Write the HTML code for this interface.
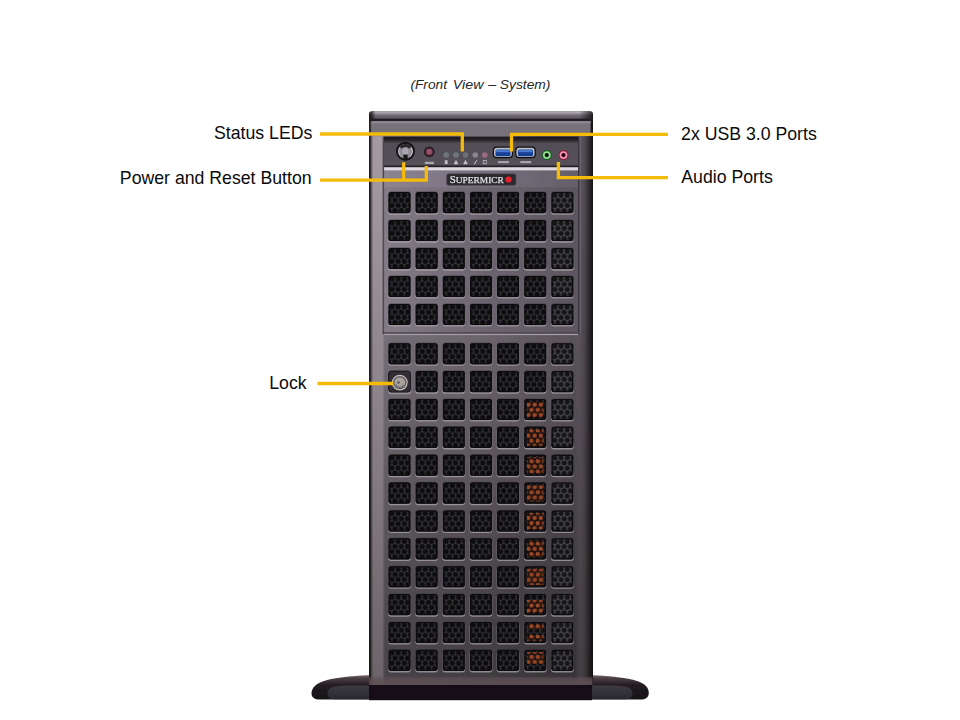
<!DOCTYPE html>
<html><head><meta charset="utf-8"><style>
html,body{margin:0;padding:0;background:#fff;width:960px;height:720px;overflow:hidden}
svg{position:absolute;left:0;top:0}
</style></head><body>
<svg width="960" height="720" viewBox="0 0 960 720">
<defs>
<pattern id="hc" x="0" y="0" width="0.28670" height="0.49048" patternUnits="objectBoundingBox">
<rect width="6.25" height="10.3" fill="#333238"/>
<circle cx="3.3" cy="3.1" r="2.55" fill="#0e0d10"/>
<circle cx="0.175" cy="8.250" r="2.55" fill="#0e0d10"/>
<circle cx="6.425" cy="8.250" r="2.55" fill="#0e0d10"/>
<circle cx="3.3" cy="-7.200" r="2.55" fill="#0e0d10"/>
<circle cx="0.175" cy="-2.050" r="2.55" fill="#0e0d10"/>
<circle cx="6.425" cy="-2.050" r="2.55" fill="#0e0d10"/>
</pattern>
<pattern id="hcr" x="0" y="0" width="0.28670" height="0.49048" patternUnits="objectBoundingBox">
<rect width="6.25" height="10.3" fill="#45444b"/>
<circle cx="3.3" cy="3.1" r="2.5" fill="#141316"/>
<circle cx="0.175" cy="8.250" r="2.5" fill="#141316"/>
<circle cx="6.425" cy="8.250" r="2.5" fill="#141316"/>
<circle cx="3.3" cy="-7.200" r="2.5" fill="#141316"/>
<circle cx="0.175" cy="-2.050" r="2.5" fill="#141316"/>
<circle cx="6.425" cy="-2.050" r="2.5" fill="#141316"/>
</pattern>
<pattern id="hco" x="0.3" y="0.4" width="6.25" height="10.3" patternUnits="userSpaceOnUse">
<rect width="6.25" height="10.3" fill="#24100c"/>
<circle cx="3.125" cy="2.575" r="2.2" fill="#cc5a28"/>
<circle cx="0" cy="7.725" r="2.2" fill="#cc5a28"/>
<circle cx="6.25" cy="7.725" r="2.2" fill="#cc5a28"/>
</pattern>
<linearGradient id="body" gradientUnits="userSpaceOnUse" x1="369" x2="593" y1="0" y2="0">
<stop offset="0" stop-color="#1e181c"/>
<stop offset="0.007" stop-color="#3a3238"/>
<stop offset="0.013" stop-color="#80767e"/>
<stop offset="0.02" stop-color="#a69ca4"/>
<stop offset="0.06" stop-color="#a89ea6"/>
<stop offset="0.07" stop-color="#8c848e"/>
<stop offset="0.5" stop-color="#827a82"/>
<stop offset="0.925" stop-color="#6c646c"/>
<stop offset="0.943" stop-color="#625b63"/>
<stop offset="0.965" stop-color="#4e484e"/>
<stop offset="0.983" stop-color="#302c30"/>
<stop offset="1" stop-color="#161416"/>
</linearGradient>
<linearGradient id="pgrad" gradientUnits="userSpaceOnUse" x1="383" x2="578" y1="0" y2="0">
<stop offset="0" stop-color="#847c86"/>
<stop offset="0.5" stop-color="#6c6570"/>
<stop offset="1" stop-color="#5c5660"/>
</linearGradient>
<linearGradient id="shade" gradientUnits="userSpaceOnUse" x1="0" x2="0" y1="111" y2="685">
<stop offset="0" stop-color="#000" stop-opacity="0"/>
<stop offset="0.155" stop-color="#000" stop-opacity="0.06"/>
<stop offset="0.52" stop-color="#000" stop-opacity="0.23"/>
<stop offset="0.85" stop-color="#000" stop-opacity="0.43"/>
<stop offset="1" stop-color="#000" stop-opacity="0.5"/>
</linearGradient>
<linearGradient id="mgrad" gradientUnits="userSpaceOnUse" x1="368.5" x2="593" y1="0" y2="0">
<stop offset="0" stop-color="#fff" stop-opacity="0.7"/>
<stop offset="0.06" stop-color="#fff" stop-opacity="0.72"/>
<stop offset="0.075" stop-color="#fff" stop-opacity="1"/>
<stop offset="0.92" stop-color="#fff" stop-opacity="1"/>
<stop offset="0.95" stop-color="#fff" stop-opacity="0.5"/>
<stop offset="1" stop-color="#fff" stop-opacity="0.5"/>
</linearGradient>
<mask id="smask" maskUnits="userSpaceOnUse" x="360" y="100" width="240" height="600"><rect x="360" y="100" width="240" height="600" fill="url(#mgrad)"/></mask>
<linearGradient id="panel" x1="0" x2="0" y1="0" y2="1">
<stop offset="0" stop-color="#19171b"/>
<stop offset="0.12" stop-color="#2a272c"/>
<stop offset="0.22" stop-color="#524e56"/>
<stop offset="1" stop-color="#55515a"/>
</linearGradient>
<linearGradient id="basegrad" gradientUnits="userSpaceOnUse" x1="0" x2="0" y1="675" y2="700">
<stop offset="0" stop-color="#7a666e"/>
<stop offset="0.14" stop-color="#4a3e44"/>
<stop offset="0.4" stop-color="#221d21"/>
<stop offset="1" stop-color="#161316"/>
</linearGradient>
<linearGradient id="baseinner" gradientUnits="userSpaceOnUse" x1="0" x2="0" y1="685" y2="700">
<stop offset="0" stop-color="#423e46"/>
<stop offset="0.3" stop-color="#36343b"/>
<stop offset="1" stop-color="#2a282e"/>
</linearGradient>
<linearGradient id="botband" gradientUnits="userSpaceOnUse" x1="0" x2="0" y1="676" y2="685">
<stop offset="0" stop-color="#5a5258" stop-opacity="0"/>
<stop offset="0.3" stop-color="#5e5054" stop-opacity="0.75"/>
<stop offset="1" stop-color="#5e5054" stop-opacity="1"/>
</linearGradient>
<linearGradient id="capgrad" gradientUnits="userSpaceOnUse" x1="0" x2="0" y1="111.3" y2="121">
<stop offset="0" stop-color="#7a727c"/>
<stop offset="0.1" stop-color="#b0a8b2"/>
<stop offset="0.3" stop-color="#8a828c"/>
<stop offset="0.45" stop-color="#6a646c"/>
<stop offset="1" stop-color="#5a545c"/>
</linearGradient>
<linearGradient id="capedge" gradientUnits="userSpaceOnUse" x1="369" x2="593" y1="0" y2="0">
<stop offset="0" stop-color="#000" stop-opacity="0.75"/>
<stop offset="0.012" stop-color="#000" stop-opacity="0.6"/>
<stop offset="0.03" stop-color="#000" stop-opacity="0"/>
<stop offset="0.94" stop-color="#000" stop-opacity="0"/>
<stop offset="0.985" stop-color="#000" stop-opacity="0.55"/>
<stop offset="1" stop-color="#000" stop-opacity="0.75"/>
</linearGradient>
<filter id="soft" x="300" y="100" width="360" height="610" filterUnits="userSpaceOnUse"><feGaussianBlur stdDeviation="0.35"/></filter>
<linearGradient id="lgrad" gradientUnits="userSpaceOnUse" x1="383" x2="578" y1="0" y2="0">
<stop offset="0" stop-color="#8c8490"/>
<stop offset="0.5" stop-color="#787080"/>
<stop offset="1" stop-color="#645e68"/>
</linearGradient>
</defs>
<g filter="url(#soft)">
<!-- base -->
<path d="M318,699.6 C313,699 311.4,696.5 311.5,692.8 C311.8,688 316,683.5 324,681 C334,678 350,675.8 368,675.3 L593,675.3 C611,675.8 627,678 637,681 C645,683.5 648.8,688 648.8,692.8 C648.8,696.5 647,699 642,699.6 Z" fill="url(#basegrad)"/>
<path d="M334,699.3 C328,699.3 326.5,695 328,691 C329.5,687.5 334,685.6 346,685.4 L614,685.4 C626,685.6 630.5,687.5 632,691 C633.5,695 632,699.3 626,699.3 Z" fill="url(#baseinner)"/>
<rect x="369" y="684.6" width="223" height="15.6" fill="#131114"/>
<!-- body -->
<rect x="369" y="118" width="224" height="567" fill="url(#body)"/>
<rect x="369" y="118" width="224" height="567" fill="url(#shade)" mask="url(#smask)"/>
<rect x="369" y="676" width="223.5" height="8.8" fill="url(#botband)"/>
<!-- top cap -->
<rect x="369" y="111.3" width="224" height="10.5" rx="3" fill="url(#capgrad)"/>
<rect x="369" y="111.3" width="224" height="10.5" rx="3" fill="url(#capedge)"/>
<rect x="369" y="118.6" width="224" height="2.6" fill="#221e24"/>
<rect x="371.5" y="121.2" width="219" height="15" fill="#77717a"/>
<rect x="371.5" y="121.2" width="219" height="2.2" fill="#8e8892"/>
<!-- front panel -->
<rect x="384" y="136.6" width="194.5" height="30.7" fill="url(#panel)"/>
<rect x="384" y="165.5" width="194.5" height="1.8" fill="#222024"/>
<rect x="384" y="167.3" width="194.5" height="3.3" fill="#dedae2"/>
<rect x="384" y="170.6" width="194.5" height="16.8" fill="url(#lgrad)"/>
<!-- power button -->
<circle cx="405.5" cy="151.3" r="9.5" fill="#141215"/>
<circle cx="405.5" cy="151.3" r="7.4" fill="#8e8a94"/>
<path d="M401.2,145.5 A7.2,7.2 0 0 0 401.2,157.1 A9,9 0 0 1 401.2,145.5Z" fill="#d8d4dc"/>
<path d="M409.8,145.5 A7.2,7.2 0 0 1 409.8,157.1 A9,9 0 0 0 409.8,145.5Z" fill="#d8d4dc"/>
<ellipse cx="405.5" cy="151.5" rx="3.2" ry="3.6" fill="#aaa6b0"/>
<path d="M399.5,147 A7.4,7.4 0 0 1 411.5,147 L409,148.5 A5,5 0 0 0 402,148.5Z" fill="#2a282c"/>
<rect x="403.4" y="154.6" width="4.2" height="5.6" fill="#141215"/>
<!-- reset -->
<circle cx="429.3" cy="151.7" r="5.3" fill="#2c1a20"/>
<circle cx="429.3" cy="151.7" r="3.3" fill="#8a4a60"/>
<circle cx="429.3" cy="151.7" r="1.8" fill="#9a5670"/>
<rect x="424.8" y="161.8" width="9.2" height="2.2" fill="#b8b6c0" opacity="0.85"/>
<!-- leds -->
<g>
<circle cx="446.2" cy="155" r="2.8" fill="#6e757c"/>
<circle cx="456" cy="155" r="2.8" fill="#6e757c"/>
<circle cx="465.5" cy="155" r="2.8" fill="#6a7076"/>
<circle cx="475.3" cy="155" r="2.8" fill="#8a868e"/>
<circle cx="484.8" cy="155" r="2.8" fill="#9e6a80"/>
</g>
<g fill="#c4c2ca">
<rect x="444.8" y="160.3" width="2.8" height="3.8"/>
<path d="M453.7,164.2 L456,159.8 L458.3,164.2 Z"/>
<path d="M463.2,164.2 L465.5,159.8 L467.8,164.2 Z"/>
<path d="M473.6,164.2 L476.6,159.9 L477.3,160.6 L474.8,164.2Z"/>
<rect x="483.3" y="160.4" width="3" height="3.4" fill="none" stroke="#b4b2ba" stroke-width="0.9"/>
</g>
<!-- usb -->
<rect x="492.8" y="146.4" width="20.2" height="11.8" rx="4" fill="#0c0c0e"/>
<rect x="494" y="147.7" width="17.8" height="9.2" rx="3" fill="#c0c0c8"/>
<rect x="495.5" y="149.5" width="15" height="6.8" rx="1.5" fill="#173f96"/>
<rect x="496.2" y="150.1" width="13.6" height="2.1" fill="#4a7ad0"/>
<rect x="515.2" y="146.4" width="20.6" height="11.8" rx="4" fill="#0c0c0e"/>
<rect x="516.4" y="147.7" width="18.2" height="9.2" rx="3" fill="#c0c0c8"/>
<rect x="517.9" y="149.5" width="15.2" height="6.8" rx="1.5" fill="#173f96"/>
<rect x="518.6" y="150.1" width="13.8" height="2.1" fill="#4a7ad0"/>
<rect x="498" y="161" width="11" height="2.2" fill="#b8b6be" opacity="0.8"/>
<rect x="520.3" y="161" width="11" height="2.2" fill="#b8b6be" opacity="0.8"/>
<!-- audio -->
<circle cx="546.8" cy="155.1" r="5" fill="#1e5a26"/>
<circle cx="546.8" cy="155.1" r="3.9" fill="#92de92"/>
<circle cx="546.8" cy="155.1" r="2.1" fill="#081408"/>
<circle cx="563.5" cy="155.1" r="5" fill="#8a1a3a"/>
<circle cx="563.5" cy="155.1" r="3.9" fill="#f090b2"/>
<circle cx="563.5" cy="155.1" r="2.1" fill="#2a0610"/>
<!-- logo -->
<rect x="446.6" y="173.7" width="69.4" height="11.7" rx="2" fill="#2c2a2f" stroke="#56525a" stroke-width="0.8"/>
<text x="449.8" y="183.1" font-family="Liberation Serif" font-size="10.4" fill="#e4e2e6" stroke="#e4e2e6" stroke-width="0.25" textLength="54" lengthAdjust="spacingAndGlyphs">S<tspan font-size="9">UPERMICR</tspan></text>
<circle cx="508.6" cy="179.5" r="3.1" fill="#e8202c"/>
<!-- upper vent panel -->
<rect x="384" y="187.2" width="194.3" height="145.6" fill="url(#pgrad)"/>
<rect x="382.6" y="136.6" width="1.5" height="197.1" fill="#4e4852"/>
<rect x="578.1" y="136.6" width="1.5" height="197.1" fill="#3a363e"/>
<rect x="382.6" y="332.3" width="197" height="1.5" fill="#4a454c"/>
<rect x="384" y="333.8" width="194" height="1.3" fill="#a39ca6"/>
<rect x="579.6" y="136.6" width="1.2" height="197" fill="#6e6874" opacity="0.8"/>
<rect x="388.10" y="193.10" width="22.80" height="21.60" rx="3" fill="#b8b3bc" opacity="0.65"/><rect x="388.10" y="191.30" width="22.80" height="22.00" rx="3" fill="#3a363c" opacity="0.5"/><rect x="388.60" y="192.10" width="21.8" height="21.0" rx="2.6" fill="url(#hc)"/><rect x="389.20" y="192.70" width="20.60" height="19.80" rx="2.2" fill="none" stroke="#0c0b0e" stroke-width="1.3"/>
<rect x="415.25" y="193.10" width="22.80" height="21.60" rx="3" fill="#b8b3bc" opacity="0.65"/><rect x="415.25" y="191.30" width="22.80" height="22.00" rx="3" fill="#3a363c" opacity="0.5"/><rect x="415.75" y="192.10" width="21.8" height="21.0" rx="2.6" fill="url(#hc)"/><rect x="416.35" y="192.70" width="20.60" height="19.80" rx="2.2" fill="none" stroke="#0c0b0e" stroke-width="1.3"/>
<rect x="442.40" y="193.10" width="22.80" height="21.60" rx="3" fill="#b8b3bc" opacity="0.65"/><rect x="442.40" y="191.30" width="22.80" height="22.00" rx="3" fill="#3a363c" opacity="0.5"/><rect x="442.90" y="192.10" width="21.8" height="21.0" rx="2.6" fill="url(#hc)"/><rect x="443.50" y="192.70" width="20.60" height="19.80" rx="2.2" fill="none" stroke="#0c0b0e" stroke-width="1.3"/>
<rect x="469.55" y="193.10" width="22.80" height="21.60" rx="3" fill="#b8b3bc" opacity="0.65"/><rect x="469.55" y="191.30" width="22.80" height="22.00" rx="3" fill="#3a363c" opacity="0.5"/><rect x="470.05" y="192.10" width="21.8" height="21.0" rx="2.6" fill="url(#hc)"/><rect x="470.65" y="192.70" width="20.60" height="19.80" rx="2.2" fill="none" stroke="#0c0b0e" stroke-width="1.3"/>
<rect x="496.70" y="193.10" width="22.80" height="21.60" rx="3" fill="#b8b3bc" opacity="0.65"/><rect x="496.70" y="191.30" width="22.80" height="22.00" rx="3" fill="#3a363c" opacity="0.5"/><rect x="497.20" y="192.10" width="21.8" height="21.0" rx="2.6" fill="url(#hc)"/><rect x="497.80" y="192.70" width="20.60" height="19.80" rx="2.2" fill="none" stroke="#0c0b0e" stroke-width="1.3"/>
<rect x="523.85" y="193.10" width="22.80" height="21.60" rx="3" fill="#b8b3bc" opacity="0.65"/><rect x="523.85" y="191.30" width="22.80" height="22.00" rx="3" fill="#3a363c" opacity="0.5"/><rect x="524.35" y="192.10" width="21.8" height="21.0" rx="2.6" fill="url(#hc)"/><rect x="524.95" y="192.70" width="20.60" height="19.80" rx="2.2" fill="none" stroke="#0c0b0e" stroke-width="1.3"/>
<rect x="551.00" y="193.10" width="22.80" height="21.60" rx="3" fill="#b8b3bc" opacity="0.65"/><rect x="551.00" y="191.30" width="22.80" height="22.00" rx="3" fill="#3a363c" opacity="0.5"/><rect x="551.50" y="192.10" width="21.8" height="21.0" rx="2.6" fill="url(#hcr)"/><rect x="552.10" y="192.70" width="20.60" height="19.80" rx="2.2" fill="none" stroke="#0c0b0e" stroke-width="1.3"/>
<rect x="388.10" y="221.07" width="22.80" height="21.60" rx="3" fill="#b8b3bc" opacity="0.65"/><rect x="388.10" y="219.27" width="22.80" height="22.00" rx="3" fill="#3a363c" opacity="0.5"/><rect x="388.60" y="220.07" width="21.8" height="21.0" rx="2.6" fill="url(#hc)"/><rect x="389.20" y="220.67" width="20.60" height="19.80" rx="2.2" fill="none" stroke="#0c0b0e" stroke-width="1.3"/>
<rect x="415.25" y="221.07" width="22.80" height="21.60" rx="3" fill="#b8b3bc" opacity="0.65"/><rect x="415.25" y="219.27" width="22.80" height="22.00" rx="3" fill="#3a363c" opacity="0.5"/><rect x="415.75" y="220.07" width="21.8" height="21.0" rx="2.6" fill="url(#hc)"/><rect x="416.35" y="220.67" width="20.60" height="19.80" rx="2.2" fill="none" stroke="#0c0b0e" stroke-width="1.3"/>
<rect x="442.40" y="221.07" width="22.80" height="21.60" rx="3" fill="#b8b3bc" opacity="0.65"/><rect x="442.40" y="219.27" width="22.80" height="22.00" rx="3" fill="#3a363c" opacity="0.5"/><rect x="442.90" y="220.07" width="21.8" height="21.0" rx="2.6" fill="url(#hc)"/><rect x="443.50" y="220.67" width="20.60" height="19.80" rx="2.2" fill="none" stroke="#0c0b0e" stroke-width="1.3"/>
<rect x="469.55" y="221.07" width="22.80" height="21.60" rx="3" fill="#b8b3bc" opacity="0.65"/><rect x="469.55" y="219.27" width="22.80" height="22.00" rx="3" fill="#3a363c" opacity="0.5"/><rect x="470.05" y="220.07" width="21.8" height="21.0" rx="2.6" fill="url(#hc)"/><rect x="470.65" y="220.67" width="20.60" height="19.80" rx="2.2" fill="none" stroke="#0c0b0e" stroke-width="1.3"/>
<rect x="496.70" y="221.07" width="22.80" height="21.60" rx="3" fill="#b8b3bc" opacity="0.65"/><rect x="496.70" y="219.27" width="22.80" height="22.00" rx="3" fill="#3a363c" opacity="0.5"/><rect x="497.20" y="220.07" width="21.8" height="21.0" rx="2.6" fill="url(#hc)"/><rect x="497.80" y="220.67" width="20.60" height="19.80" rx="2.2" fill="none" stroke="#0c0b0e" stroke-width="1.3"/>
<rect x="523.85" y="221.07" width="22.80" height="21.60" rx="3" fill="#b8b3bc" opacity="0.65"/><rect x="523.85" y="219.27" width="22.80" height="22.00" rx="3" fill="#3a363c" opacity="0.5"/><rect x="524.35" y="220.07" width="21.8" height="21.0" rx="2.6" fill="url(#hc)"/><rect x="524.95" y="220.67" width="20.60" height="19.80" rx="2.2" fill="none" stroke="#0c0b0e" stroke-width="1.3"/>
<rect x="551.00" y="221.07" width="22.80" height="21.60" rx="3" fill="#b8b3bc" opacity="0.65"/><rect x="551.00" y="219.27" width="22.80" height="22.00" rx="3" fill="#3a363c" opacity="0.5"/><rect x="551.50" y="220.07" width="21.8" height="21.0" rx="2.6" fill="url(#hcr)"/><rect x="552.10" y="220.67" width="20.60" height="19.80" rx="2.2" fill="none" stroke="#0c0b0e" stroke-width="1.3"/>
<rect x="388.10" y="249.04" width="22.80" height="21.60" rx="3" fill="#b8b3bc" opacity="0.65"/><rect x="388.10" y="247.24" width="22.80" height="22.00" rx="3" fill="#3a363c" opacity="0.5"/><rect x="388.60" y="248.04" width="21.8" height="21.0" rx="2.6" fill="url(#hc)"/><rect x="389.20" y="248.64" width="20.60" height="19.80" rx="2.2" fill="none" stroke="#0c0b0e" stroke-width="1.3"/>
<rect x="415.25" y="249.04" width="22.80" height="21.60" rx="3" fill="#b8b3bc" opacity="0.65"/><rect x="415.25" y="247.24" width="22.80" height="22.00" rx="3" fill="#3a363c" opacity="0.5"/><rect x="415.75" y="248.04" width="21.8" height="21.0" rx="2.6" fill="url(#hc)"/><rect x="416.35" y="248.64" width="20.60" height="19.80" rx="2.2" fill="none" stroke="#0c0b0e" stroke-width="1.3"/>
<rect x="442.40" y="249.04" width="22.80" height="21.60" rx="3" fill="#b8b3bc" opacity="0.65"/><rect x="442.40" y="247.24" width="22.80" height="22.00" rx="3" fill="#3a363c" opacity="0.5"/><rect x="442.90" y="248.04" width="21.8" height="21.0" rx="2.6" fill="url(#hc)"/><rect x="443.50" y="248.64" width="20.60" height="19.80" rx="2.2" fill="none" stroke="#0c0b0e" stroke-width="1.3"/>
<rect x="469.55" y="249.04" width="22.80" height="21.60" rx="3" fill="#b8b3bc" opacity="0.65"/><rect x="469.55" y="247.24" width="22.80" height="22.00" rx="3" fill="#3a363c" opacity="0.5"/><rect x="470.05" y="248.04" width="21.8" height="21.0" rx="2.6" fill="url(#hc)"/><rect x="470.65" y="248.64" width="20.60" height="19.80" rx="2.2" fill="none" stroke="#0c0b0e" stroke-width="1.3"/>
<rect x="496.70" y="249.04" width="22.80" height="21.60" rx="3" fill="#b8b3bc" opacity="0.65"/><rect x="496.70" y="247.24" width="22.80" height="22.00" rx="3" fill="#3a363c" opacity="0.5"/><rect x="497.20" y="248.04" width="21.8" height="21.0" rx="2.6" fill="url(#hc)"/><rect x="497.80" y="248.64" width="20.60" height="19.80" rx="2.2" fill="none" stroke="#0c0b0e" stroke-width="1.3"/>
<rect x="523.85" y="249.04" width="22.80" height="21.60" rx="3" fill="#b8b3bc" opacity="0.65"/><rect x="523.85" y="247.24" width="22.80" height="22.00" rx="3" fill="#3a363c" opacity="0.5"/><rect x="524.35" y="248.04" width="21.8" height="21.0" rx="2.6" fill="url(#hc)"/><rect x="524.95" y="248.64" width="20.60" height="19.80" rx="2.2" fill="none" stroke="#0c0b0e" stroke-width="1.3"/>
<rect x="551.00" y="249.04" width="22.80" height="21.60" rx="3" fill="#b8b3bc" opacity="0.65"/><rect x="551.00" y="247.24" width="22.80" height="22.00" rx="3" fill="#3a363c" opacity="0.5"/><rect x="551.50" y="248.04" width="21.8" height="21.0" rx="2.6" fill="url(#hcr)"/><rect x="552.10" y="248.64" width="20.60" height="19.80" rx="2.2" fill="none" stroke="#0c0b0e" stroke-width="1.3"/>
<rect x="388.10" y="277.01" width="22.80" height="21.60" rx="3" fill="#b8b3bc" opacity="0.65"/><rect x="388.10" y="275.21" width="22.80" height="22.00" rx="3" fill="#3a363c" opacity="0.5"/><rect x="388.60" y="276.01" width="21.8" height="21.0" rx="2.6" fill="url(#hc)"/><rect x="389.20" y="276.61" width="20.60" height="19.80" rx="2.2" fill="none" stroke="#0c0b0e" stroke-width="1.3"/>
<rect x="415.25" y="277.01" width="22.80" height="21.60" rx="3" fill="#b8b3bc" opacity="0.65"/><rect x="415.25" y="275.21" width="22.80" height="22.00" rx="3" fill="#3a363c" opacity="0.5"/><rect x="415.75" y="276.01" width="21.8" height="21.0" rx="2.6" fill="url(#hc)"/><rect x="416.35" y="276.61" width="20.60" height="19.80" rx="2.2" fill="none" stroke="#0c0b0e" stroke-width="1.3"/>
<rect x="442.40" y="277.01" width="22.80" height="21.60" rx="3" fill="#b8b3bc" opacity="0.65"/><rect x="442.40" y="275.21" width="22.80" height="22.00" rx="3" fill="#3a363c" opacity="0.5"/><rect x="442.90" y="276.01" width="21.8" height="21.0" rx="2.6" fill="url(#hc)"/><rect x="443.50" y="276.61" width="20.60" height="19.80" rx="2.2" fill="none" stroke="#0c0b0e" stroke-width="1.3"/>
<rect x="469.55" y="277.01" width="22.80" height="21.60" rx="3" fill="#b8b3bc" opacity="0.65"/><rect x="469.55" y="275.21" width="22.80" height="22.00" rx="3" fill="#3a363c" opacity="0.5"/><rect x="470.05" y="276.01" width="21.8" height="21.0" rx="2.6" fill="url(#hc)"/><rect x="470.65" y="276.61" width="20.60" height="19.80" rx="2.2" fill="none" stroke="#0c0b0e" stroke-width="1.3"/>
<rect x="496.70" y="277.01" width="22.80" height="21.60" rx="3" fill="#b8b3bc" opacity="0.65"/><rect x="496.70" y="275.21" width="22.80" height="22.00" rx="3" fill="#3a363c" opacity="0.5"/><rect x="497.20" y="276.01" width="21.8" height="21.0" rx="2.6" fill="url(#hc)"/><rect x="497.80" y="276.61" width="20.60" height="19.80" rx="2.2" fill="none" stroke="#0c0b0e" stroke-width="1.3"/>
<rect x="523.85" y="277.01" width="22.80" height="21.60" rx="3" fill="#b8b3bc" opacity="0.65"/><rect x="523.85" y="275.21" width="22.80" height="22.00" rx="3" fill="#3a363c" opacity="0.5"/><rect x="524.35" y="276.01" width="21.8" height="21.0" rx="2.6" fill="url(#hc)"/><rect x="524.95" y="276.61" width="20.60" height="19.80" rx="2.2" fill="none" stroke="#0c0b0e" stroke-width="1.3"/>
<rect x="551.00" y="277.01" width="22.80" height="21.60" rx="3" fill="#b8b3bc" opacity="0.65"/><rect x="551.00" y="275.21" width="22.80" height="22.00" rx="3" fill="#3a363c" opacity="0.5"/><rect x="551.50" y="276.01" width="21.8" height="21.0" rx="2.6" fill="url(#hcr)"/><rect x="552.10" y="276.61" width="20.60" height="19.80" rx="2.2" fill="none" stroke="#0c0b0e" stroke-width="1.3"/>
<rect x="388.10" y="304.98" width="22.80" height="21.60" rx="3" fill="#b8b3bc" opacity="0.65"/><rect x="388.10" y="303.18" width="22.80" height="22.00" rx="3" fill="#3a363c" opacity="0.5"/><rect x="388.60" y="303.98" width="21.8" height="21.0" rx="2.6" fill="url(#hc)"/><rect x="389.20" y="304.58" width="20.60" height="19.80" rx="2.2" fill="none" stroke="#0c0b0e" stroke-width="1.3"/>
<rect x="415.25" y="304.98" width="22.80" height="21.60" rx="3" fill="#b8b3bc" opacity="0.65"/><rect x="415.25" y="303.18" width="22.80" height="22.00" rx="3" fill="#3a363c" opacity="0.5"/><rect x="415.75" y="303.98" width="21.8" height="21.0" rx="2.6" fill="url(#hc)"/><rect x="416.35" y="304.58" width="20.60" height="19.80" rx="2.2" fill="none" stroke="#0c0b0e" stroke-width="1.3"/>
<rect x="442.40" y="304.98" width="22.80" height="21.60" rx="3" fill="#b8b3bc" opacity="0.65"/><rect x="442.40" y="303.18" width="22.80" height="22.00" rx="3" fill="#3a363c" opacity="0.5"/><rect x="442.90" y="303.98" width="21.8" height="21.0" rx="2.6" fill="url(#hc)"/><rect x="443.50" y="304.58" width="20.60" height="19.80" rx="2.2" fill="none" stroke="#0c0b0e" stroke-width="1.3"/>
<rect x="469.55" y="304.98" width="22.80" height="21.60" rx="3" fill="#b8b3bc" opacity="0.65"/><rect x="469.55" y="303.18" width="22.80" height="22.00" rx="3" fill="#3a363c" opacity="0.5"/><rect x="470.05" y="303.98" width="21.8" height="21.0" rx="2.6" fill="url(#hc)"/><rect x="470.65" y="304.58" width="20.60" height="19.80" rx="2.2" fill="none" stroke="#0c0b0e" stroke-width="1.3"/>
<rect x="496.70" y="304.98" width="22.80" height="21.60" rx="3" fill="#b8b3bc" opacity="0.65"/><rect x="496.70" y="303.18" width="22.80" height="22.00" rx="3" fill="#3a363c" opacity="0.5"/><rect x="497.20" y="303.98" width="21.8" height="21.0" rx="2.6" fill="url(#hc)"/><rect x="497.80" y="304.58" width="20.60" height="19.80" rx="2.2" fill="none" stroke="#0c0b0e" stroke-width="1.3"/>
<rect x="523.85" y="304.98" width="22.80" height="21.60" rx="3" fill="#b8b3bc" opacity="0.65"/><rect x="523.85" y="303.18" width="22.80" height="22.00" rx="3" fill="#3a363c" opacity="0.5"/><rect x="524.35" y="303.98" width="21.8" height="21.0" rx="2.6" fill="url(#hc)"/><rect x="524.95" y="304.58" width="20.60" height="19.80" rx="2.2" fill="none" stroke="#0c0b0e" stroke-width="1.3"/>
<rect x="551.00" y="304.98" width="22.80" height="21.60" rx="3" fill="#b8b3bc" opacity="0.65"/><rect x="551.00" y="303.18" width="22.80" height="22.00" rx="3" fill="#3a363c" opacity="0.5"/><rect x="551.50" y="303.98" width="21.8" height="21.0" rx="2.6" fill="url(#hcr)"/><rect x="552.10" y="304.58" width="20.60" height="19.80" rx="2.2" fill="none" stroke="#0c0b0e" stroke-width="1.3"/>
<rect x="388.10" y="344.20" width="22.80" height="21.60" rx="3" fill="#b8b3bc" opacity="0.65"/><rect x="388.10" y="342.40" width="22.80" height="22.00" rx="3" fill="#3a363c" opacity="0.5"/><rect x="388.60" y="343.20" width="21.8" height="21.0" rx="2.6" fill="url(#hc)"/><rect x="389.20" y="343.80" width="20.60" height="19.80" rx="2.2" fill="none" stroke="#0c0b0e" stroke-width="1.3"/>
<rect x="415.25" y="344.20" width="22.80" height="21.60" rx="3" fill="#b8b3bc" opacity="0.65"/><rect x="415.25" y="342.40" width="22.80" height="22.00" rx="3" fill="#3a363c" opacity="0.5"/><rect x="415.75" y="343.20" width="21.8" height="21.0" rx="2.6" fill="url(#hc)"/><rect x="416.35" y="343.80" width="20.60" height="19.80" rx="2.2" fill="none" stroke="#0c0b0e" stroke-width="1.3"/>
<rect x="442.40" y="344.20" width="22.80" height="21.60" rx="3" fill="#b8b3bc" opacity="0.65"/><rect x="442.40" y="342.40" width="22.80" height="22.00" rx="3" fill="#3a363c" opacity="0.5"/><rect x="442.90" y="343.20" width="21.8" height="21.0" rx="2.6" fill="url(#hc)"/><rect x="443.50" y="343.80" width="20.60" height="19.80" rx="2.2" fill="none" stroke="#0c0b0e" stroke-width="1.3"/>
<rect x="469.55" y="344.20" width="22.80" height="21.60" rx="3" fill="#b8b3bc" opacity="0.65"/><rect x="469.55" y="342.40" width="22.80" height="22.00" rx="3" fill="#3a363c" opacity="0.5"/><rect x="470.05" y="343.20" width="21.8" height="21.0" rx="2.6" fill="url(#hc)"/><rect x="470.65" y="343.80" width="20.60" height="19.80" rx="2.2" fill="none" stroke="#0c0b0e" stroke-width="1.3"/>
<rect x="496.70" y="344.20" width="22.80" height="21.60" rx="3" fill="#b8b3bc" opacity="0.65"/><rect x="496.70" y="342.40" width="22.80" height="22.00" rx="3" fill="#3a363c" opacity="0.5"/><rect x="497.20" y="343.20" width="21.8" height="21.0" rx="2.6" fill="url(#hc)"/><rect x="497.80" y="343.80" width="20.60" height="19.80" rx="2.2" fill="none" stroke="#0c0b0e" stroke-width="1.3"/>
<rect x="523.85" y="344.20" width="22.80" height="21.60" rx="3" fill="#b8b3bc" opacity="0.65"/><rect x="523.85" y="342.40" width="22.80" height="22.00" rx="3" fill="#3a363c" opacity="0.5"/><rect x="524.35" y="343.20" width="21.8" height="21.0" rx="2.6" fill="url(#hc)"/><rect x="524.95" y="343.80" width="20.60" height="19.80" rx="2.2" fill="none" stroke="#0c0b0e" stroke-width="1.3"/>
<rect x="551.00" y="344.20" width="22.80" height="21.60" rx="3" fill="#b8b3bc" opacity="0.65"/><rect x="551.00" y="342.40" width="22.80" height="22.00" rx="3" fill="#3a363c" opacity="0.5"/><rect x="551.50" y="343.20" width="21.8" height="21.0" rx="2.6" fill="url(#hcr)"/><rect x="552.10" y="343.80" width="20.60" height="19.80" rx="2.2" fill="none" stroke="#0c0b0e" stroke-width="1.3"/>
<rect x="388.00" y="372.28" width="23.00" height="21.90" rx="3" fill="#b4afb8" opacity="0.6"/>
<rect x="388.60" y="371.08" width="21.8" height="21.0" rx="2.6" fill="#302d34" stroke="#18161a" stroke-width="1"/>
<rect x="415.25" y="372.08" width="22.80" height="21.60" rx="3" fill="#b8b3bc" opacity="0.65"/><rect x="415.25" y="370.28" width="22.80" height="22.00" rx="3" fill="#3a363c" opacity="0.5"/><rect x="415.75" y="371.08" width="21.8" height="21.0" rx="2.6" fill="url(#hc)"/><rect x="416.35" y="371.68" width="20.60" height="19.80" rx="2.2" fill="none" stroke="#0c0b0e" stroke-width="1.3"/>
<rect x="442.40" y="372.08" width="22.80" height="21.60" rx="3" fill="#b8b3bc" opacity="0.65"/><rect x="442.40" y="370.28" width="22.80" height="22.00" rx="3" fill="#3a363c" opacity="0.5"/><rect x="442.90" y="371.08" width="21.8" height="21.0" rx="2.6" fill="url(#hc)"/><rect x="443.50" y="371.68" width="20.60" height="19.80" rx="2.2" fill="none" stroke="#0c0b0e" stroke-width="1.3"/>
<rect x="469.55" y="372.08" width="22.80" height="21.60" rx="3" fill="#b8b3bc" opacity="0.65"/><rect x="469.55" y="370.28" width="22.80" height="22.00" rx="3" fill="#3a363c" opacity="0.5"/><rect x="470.05" y="371.08" width="21.8" height="21.0" rx="2.6" fill="url(#hc)"/><rect x="470.65" y="371.68" width="20.60" height="19.80" rx="2.2" fill="none" stroke="#0c0b0e" stroke-width="1.3"/>
<rect x="496.70" y="372.08" width="22.80" height="21.60" rx="3" fill="#b8b3bc" opacity="0.65"/><rect x="496.70" y="370.28" width="22.80" height="22.00" rx="3" fill="#3a363c" opacity="0.5"/><rect x="497.20" y="371.08" width="21.8" height="21.0" rx="2.6" fill="url(#hc)"/><rect x="497.80" y="371.68" width="20.60" height="19.80" rx="2.2" fill="none" stroke="#0c0b0e" stroke-width="1.3"/>
<rect x="523.85" y="372.08" width="22.80" height="21.60" rx="3" fill="#b8b3bc" opacity="0.65"/><rect x="523.85" y="370.28" width="22.80" height="22.00" rx="3" fill="#3a363c" opacity="0.5"/><rect x="524.35" y="371.08" width="21.8" height="21.0" rx="2.6" fill="url(#hc)"/><rect x="524.95" y="371.68" width="20.60" height="19.80" rx="2.2" fill="none" stroke="#0c0b0e" stroke-width="1.3"/>
<rect x="551.00" y="372.08" width="22.80" height="21.60" rx="3" fill="#b8b3bc" opacity="0.65"/><rect x="551.00" y="370.28" width="22.80" height="22.00" rx="3" fill="#3a363c" opacity="0.5"/><rect x="551.50" y="371.08" width="21.8" height="21.0" rx="2.6" fill="url(#hcr)"/><rect x="552.10" y="371.68" width="20.60" height="19.80" rx="2.2" fill="none" stroke="#0c0b0e" stroke-width="1.3"/>
<rect x="388.10" y="399.96" width="22.80" height="21.60" rx="3" fill="#b8b3bc" opacity="0.65"/><rect x="388.10" y="398.16" width="22.80" height="22.00" rx="3" fill="#3a363c" opacity="0.5"/><rect x="388.60" y="398.96" width="21.8" height="21.0" rx="2.6" fill="url(#hc)"/><rect x="389.20" y="399.56" width="20.60" height="19.80" rx="2.2" fill="none" stroke="#0c0b0e" stroke-width="1.3"/>
<rect x="415.25" y="399.96" width="22.80" height="21.60" rx="3" fill="#b8b3bc" opacity="0.65"/><rect x="415.25" y="398.16" width="22.80" height="22.00" rx="3" fill="#3a363c" opacity="0.5"/><rect x="415.75" y="398.96" width="21.8" height="21.0" rx="2.6" fill="url(#hc)"/><rect x="416.35" y="399.56" width="20.60" height="19.80" rx="2.2" fill="none" stroke="#0c0b0e" stroke-width="1.3"/>
<rect x="442.40" y="399.96" width="22.80" height="21.60" rx="3" fill="#b8b3bc" opacity="0.65"/><rect x="442.40" y="398.16" width="22.80" height="22.00" rx="3" fill="#3a363c" opacity="0.5"/><rect x="442.90" y="398.96" width="21.8" height="21.0" rx="2.6" fill="url(#hc)"/><rect x="443.50" y="399.56" width="20.60" height="19.80" rx="2.2" fill="none" stroke="#0c0b0e" stroke-width="1.3"/>
<rect x="469.55" y="399.96" width="22.80" height="21.60" rx="3" fill="#b8b3bc" opacity="0.65"/><rect x="469.55" y="398.16" width="22.80" height="22.00" rx="3" fill="#3a363c" opacity="0.5"/><rect x="470.05" y="398.96" width="21.8" height="21.0" rx="2.6" fill="url(#hc)"/><rect x="470.65" y="399.56" width="20.60" height="19.80" rx="2.2" fill="none" stroke="#0c0b0e" stroke-width="1.3"/>
<rect x="496.70" y="399.96" width="22.80" height="21.60" rx="3" fill="#b8b3bc" opacity="0.65"/><rect x="496.70" y="398.16" width="22.80" height="22.00" rx="3" fill="#3a363c" opacity="0.5"/><rect x="497.20" y="398.96" width="21.8" height="21.0" rx="2.6" fill="url(#hc)"/><rect x="497.80" y="399.56" width="20.60" height="19.80" rx="2.2" fill="none" stroke="#0c0b0e" stroke-width="1.3"/>
<rect x="523.85" y="399.96" width="22.80" height="21.60" rx="3" fill="#b8b3bc" opacity="0.65"/><rect x="523.85" y="398.16" width="22.80" height="22.00" rx="3" fill="#3a363c" opacity="0.5"/><rect x="524.35" y="398.96" width="21.8" height="21.0" rx="2.6" fill="url(#hc)"/><rect x="524.95" y="399.56" width="20.60" height="19.80" rx="2.2" fill="none" stroke="#0c0b0e" stroke-width="1.3"/>
<rect x="526.95" y="401.46" width="16.40" height="16.30" fill="url(#hco)" opacity="0.7"/>
<rect x="551.00" y="399.96" width="22.80" height="21.60" rx="3" fill="#b8b3bc" opacity="0.65"/><rect x="551.00" y="398.16" width="22.80" height="22.00" rx="3" fill="#3a363c" opacity="0.5"/><rect x="551.50" y="398.96" width="21.8" height="21.0" rx="2.6" fill="url(#hcr)"/><rect x="552.10" y="399.56" width="20.60" height="19.80" rx="2.2" fill="none" stroke="#0c0b0e" stroke-width="1.3"/>
<rect x="388.10" y="427.84" width="22.80" height="21.60" rx="3" fill="#b8b3bc" opacity="0.65"/><rect x="388.10" y="426.04" width="22.80" height="22.00" rx="3" fill="#3a363c" opacity="0.5"/><rect x="388.60" y="426.84" width="21.8" height="21.0" rx="2.6" fill="url(#hc)"/><rect x="389.20" y="427.44" width="20.60" height="19.80" rx="2.2" fill="none" stroke="#0c0b0e" stroke-width="1.3"/>
<rect x="415.25" y="427.84" width="22.80" height="21.60" rx="3" fill="#b8b3bc" opacity="0.65"/><rect x="415.25" y="426.04" width="22.80" height="22.00" rx="3" fill="#3a363c" opacity="0.5"/><rect x="415.75" y="426.84" width="21.8" height="21.0" rx="2.6" fill="url(#hc)"/><rect x="416.35" y="427.44" width="20.60" height="19.80" rx="2.2" fill="none" stroke="#0c0b0e" stroke-width="1.3"/>
<rect x="442.40" y="427.84" width="22.80" height="21.60" rx="3" fill="#b8b3bc" opacity="0.65"/><rect x="442.40" y="426.04" width="22.80" height="22.00" rx="3" fill="#3a363c" opacity="0.5"/><rect x="442.90" y="426.84" width="21.8" height="21.0" rx="2.6" fill="url(#hc)"/><rect x="443.50" y="427.44" width="20.60" height="19.80" rx="2.2" fill="none" stroke="#0c0b0e" stroke-width="1.3"/>
<rect x="469.55" y="427.84" width="22.80" height="21.60" rx="3" fill="#b8b3bc" opacity="0.65"/><rect x="469.55" y="426.04" width="22.80" height="22.00" rx="3" fill="#3a363c" opacity="0.5"/><rect x="470.05" y="426.84" width="21.8" height="21.0" rx="2.6" fill="url(#hc)"/><rect x="470.65" y="427.44" width="20.60" height="19.80" rx="2.2" fill="none" stroke="#0c0b0e" stroke-width="1.3"/>
<rect x="496.70" y="427.84" width="22.80" height="21.60" rx="3" fill="#b8b3bc" opacity="0.65"/><rect x="496.70" y="426.04" width="22.80" height="22.00" rx="3" fill="#3a363c" opacity="0.5"/><rect x="497.20" y="426.84" width="21.8" height="21.0" rx="2.6" fill="url(#hc)"/><rect x="497.80" y="427.44" width="20.60" height="19.80" rx="2.2" fill="none" stroke="#0c0b0e" stroke-width="1.3"/>
<rect x="523.85" y="427.84" width="22.80" height="21.60" rx="3" fill="#b8b3bc" opacity="0.65"/><rect x="523.85" y="426.04" width="22.80" height="22.00" rx="3" fill="#3a363c" opacity="0.5"/><rect x="524.35" y="426.84" width="21.8" height="21.0" rx="2.6" fill="url(#hc)"/><rect x="524.95" y="427.44" width="20.60" height="19.80" rx="2.2" fill="none" stroke="#0c0b0e" stroke-width="1.3"/>
<rect x="526.95" y="429.34" width="16.40" height="16.30" fill="url(#hco)" opacity="0.7"/>
<rect x="551.00" y="427.84" width="22.80" height="21.60" rx="3" fill="#b8b3bc" opacity="0.65"/><rect x="551.00" y="426.04" width="22.80" height="22.00" rx="3" fill="#3a363c" opacity="0.5"/><rect x="551.50" y="426.84" width="21.8" height="21.0" rx="2.6" fill="url(#hcr)"/><rect x="552.10" y="427.44" width="20.60" height="19.80" rx="2.2" fill="none" stroke="#0c0b0e" stroke-width="1.3"/>
<rect x="388.10" y="455.72" width="22.80" height="21.60" rx="3" fill="#b8b3bc" opacity="0.65"/><rect x="388.10" y="453.92" width="22.80" height="22.00" rx="3" fill="#3a363c" opacity="0.5"/><rect x="388.60" y="454.72" width="21.8" height="21.0" rx="2.6" fill="url(#hc)"/><rect x="389.20" y="455.32" width="20.60" height="19.80" rx="2.2" fill="none" stroke="#0c0b0e" stroke-width="1.3"/>
<rect x="415.25" y="455.72" width="22.80" height="21.60" rx="3" fill="#b8b3bc" opacity="0.65"/><rect x="415.25" y="453.92" width="22.80" height="22.00" rx="3" fill="#3a363c" opacity="0.5"/><rect x="415.75" y="454.72" width="21.8" height="21.0" rx="2.6" fill="url(#hc)"/><rect x="416.35" y="455.32" width="20.60" height="19.80" rx="2.2" fill="none" stroke="#0c0b0e" stroke-width="1.3"/>
<rect x="442.40" y="455.72" width="22.80" height="21.60" rx="3" fill="#b8b3bc" opacity="0.65"/><rect x="442.40" y="453.92" width="22.80" height="22.00" rx="3" fill="#3a363c" opacity="0.5"/><rect x="442.90" y="454.72" width="21.8" height="21.0" rx="2.6" fill="url(#hc)"/><rect x="443.50" y="455.32" width="20.60" height="19.80" rx="2.2" fill="none" stroke="#0c0b0e" stroke-width="1.3"/>
<rect x="469.55" y="455.72" width="22.80" height="21.60" rx="3" fill="#b8b3bc" opacity="0.65"/><rect x="469.55" y="453.92" width="22.80" height="22.00" rx="3" fill="#3a363c" opacity="0.5"/><rect x="470.05" y="454.72" width="21.8" height="21.0" rx="2.6" fill="url(#hc)"/><rect x="470.65" y="455.32" width="20.60" height="19.80" rx="2.2" fill="none" stroke="#0c0b0e" stroke-width="1.3"/>
<rect x="496.70" y="455.72" width="22.80" height="21.60" rx="3" fill="#b8b3bc" opacity="0.65"/><rect x="496.70" y="453.92" width="22.80" height="22.00" rx="3" fill="#3a363c" opacity="0.5"/><rect x="497.20" y="454.72" width="21.8" height="21.0" rx="2.6" fill="url(#hc)"/><rect x="497.80" y="455.32" width="20.60" height="19.80" rx="2.2" fill="none" stroke="#0c0b0e" stroke-width="1.3"/>
<rect x="523.85" y="455.72" width="22.80" height="21.60" rx="3" fill="#b8b3bc" opacity="0.65"/><rect x="523.85" y="453.92" width="22.80" height="22.00" rx="3" fill="#3a363c" opacity="0.5"/><rect x="524.35" y="454.72" width="21.8" height="21.0" rx="2.6" fill="url(#hc)"/><rect x="524.95" y="455.32" width="20.60" height="19.80" rx="2.2" fill="none" stroke="#0c0b0e" stroke-width="1.3"/>
<rect x="526.95" y="457.22" width="16.40" height="16.30" fill="url(#hco)" opacity="0.7"/>
<rect x="551.00" y="455.72" width="22.80" height="21.60" rx="3" fill="#b8b3bc" opacity="0.65"/><rect x="551.00" y="453.92" width="22.80" height="22.00" rx="3" fill="#3a363c" opacity="0.5"/><rect x="551.50" y="454.72" width="21.8" height="21.0" rx="2.6" fill="url(#hcr)"/><rect x="552.10" y="455.32" width="20.60" height="19.80" rx="2.2" fill="none" stroke="#0c0b0e" stroke-width="1.3"/>
<rect x="388.10" y="483.60" width="22.80" height="21.60" rx="3" fill="#b8b3bc" opacity="0.65"/><rect x="388.10" y="481.80" width="22.80" height="22.00" rx="3" fill="#3a363c" opacity="0.5"/><rect x="388.60" y="482.60" width="21.8" height="21.0" rx="2.6" fill="url(#hc)"/><rect x="389.20" y="483.20" width="20.60" height="19.80" rx="2.2" fill="none" stroke="#0c0b0e" stroke-width="1.3"/>
<rect x="415.25" y="483.60" width="22.80" height="21.60" rx="3" fill="#b8b3bc" opacity="0.65"/><rect x="415.25" y="481.80" width="22.80" height="22.00" rx="3" fill="#3a363c" opacity="0.5"/><rect x="415.75" y="482.60" width="21.8" height="21.0" rx="2.6" fill="url(#hc)"/><rect x="416.35" y="483.20" width="20.60" height="19.80" rx="2.2" fill="none" stroke="#0c0b0e" stroke-width="1.3"/>
<rect x="442.40" y="483.60" width="22.80" height="21.60" rx="3" fill="#b8b3bc" opacity="0.65"/><rect x="442.40" y="481.80" width="22.80" height="22.00" rx="3" fill="#3a363c" opacity="0.5"/><rect x="442.90" y="482.60" width="21.8" height="21.0" rx="2.6" fill="url(#hc)"/><rect x="443.50" y="483.20" width="20.60" height="19.80" rx="2.2" fill="none" stroke="#0c0b0e" stroke-width="1.3"/>
<rect x="469.55" y="483.60" width="22.80" height="21.60" rx="3" fill="#b8b3bc" opacity="0.65"/><rect x="469.55" y="481.80" width="22.80" height="22.00" rx="3" fill="#3a363c" opacity="0.5"/><rect x="470.05" y="482.60" width="21.8" height="21.0" rx="2.6" fill="url(#hc)"/><rect x="470.65" y="483.20" width="20.60" height="19.80" rx="2.2" fill="none" stroke="#0c0b0e" stroke-width="1.3"/>
<rect x="496.70" y="483.60" width="22.80" height="21.60" rx="3" fill="#b8b3bc" opacity="0.65"/><rect x="496.70" y="481.80" width="22.80" height="22.00" rx="3" fill="#3a363c" opacity="0.5"/><rect x="497.20" y="482.60" width="21.8" height="21.0" rx="2.6" fill="url(#hc)"/><rect x="497.80" y="483.20" width="20.60" height="19.80" rx="2.2" fill="none" stroke="#0c0b0e" stroke-width="1.3"/>
<rect x="523.85" y="483.60" width="22.80" height="21.60" rx="3" fill="#b8b3bc" opacity="0.65"/><rect x="523.85" y="481.80" width="22.80" height="22.00" rx="3" fill="#3a363c" opacity="0.5"/><rect x="524.35" y="482.60" width="21.8" height="21.0" rx="2.6" fill="url(#hc)"/><rect x="524.95" y="483.20" width="20.60" height="19.80" rx="2.2" fill="none" stroke="#0c0b0e" stroke-width="1.3"/>
<rect x="526.95" y="485.10" width="16.40" height="16.30" fill="url(#hco)" opacity="0.7"/>
<rect x="551.00" y="483.60" width="22.80" height="21.60" rx="3" fill="#b8b3bc" opacity="0.65"/><rect x="551.00" y="481.80" width="22.80" height="22.00" rx="3" fill="#3a363c" opacity="0.5"/><rect x="551.50" y="482.60" width="21.8" height="21.0" rx="2.6" fill="url(#hcr)"/><rect x="552.10" y="483.20" width="20.60" height="19.80" rx="2.2" fill="none" stroke="#0c0b0e" stroke-width="1.3"/>
<rect x="388.10" y="511.48" width="22.80" height="21.60" rx="3" fill="#b8b3bc" opacity="0.65"/><rect x="388.10" y="509.68" width="22.80" height="22.00" rx="3" fill="#3a363c" opacity="0.5"/><rect x="388.60" y="510.48" width="21.8" height="21.0" rx="2.6" fill="url(#hc)"/><rect x="389.20" y="511.08" width="20.60" height="19.80" rx="2.2" fill="none" stroke="#0c0b0e" stroke-width="1.3"/>
<rect x="415.25" y="511.48" width="22.80" height="21.60" rx="3" fill="#b8b3bc" opacity="0.65"/><rect x="415.25" y="509.68" width="22.80" height="22.00" rx="3" fill="#3a363c" opacity="0.5"/><rect x="415.75" y="510.48" width="21.8" height="21.0" rx="2.6" fill="url(#hc)"/><rect x="416.35" y="511.08" width="20.60" height="19.80" rx="2.2" fill="none" stroke="#0c0b0e" stroke-width="1.3"/>
<rect x="442.40" y="511.48" width="22.80" height="21.60" rx="3" fill="#b8b3bc" opacity="0.65"/><rect x="442.40" y="509.68" width="22.80" height="22.00" rx="3" fill="#3a363c" opacity="0.5"/><rect x="442.90" y="510.48" width="21.8" height="21.0" rx="2.6" fill="url(#hc)"/><rect x="443.50" y="511.08" width="20.60" height="19.80" rx="2.2" fill="none" stroke="#0c0b0e" stroke-width="1.3"/>
<rect x="469.55" y="511.48" width="22.80" height="21.60" rx="3" fill="#b8b3bc" opacity="0.65"/><rect x="469.55" y="509.68" width="22.80" height="22.00" rx="3" fill="#3a363c" opacity="0.5"/><rect x="470.05" y="510.48" width="21.8" height="21.0" rx="2.6" fill="url(#hc)"/><rect x="470.65" y="511.08" width="20.60" height="19.80" rx="2.2" fill="none" stroke="#0c0b0e" stroke-width="1.3"/>
<rect x="496.70" y="511.48" width="22.80" height="21.60" rx="3" fill="#b8b3bc" opacity="0.65"/><rect x="496.70" y="509.68" width="22.80" height="22.00" rx="3" fill="#3a363c" opacity="0.5"/><rect x="497.20" y="510.48" width="21.8" height="21.0" rx="2.6" fill="url(#hc)"/><rect x="497.80" y="511.08" width="20.60" height="19.80" rx="2.2" fill="none" stroke="#0c0b0e" stroke-width="1.3"/>
<rect x="523.85" y="511.48" width="22.80" height="21.60" rx="3" fill="#b8b3bc" opacity="0.65"/><rect x="523.85" y="509.68" width="22.80" height="22.00" rx="3" fill="#3a363c" opacity="0.5"/><rect x="524.35" y="510.48" width="21.8" height="21.0" rx="2.6" fill="url(#hc)"/><rect x="524.95" y="511.08" width="20.60" height="19.80" rx="2.2" fill="none" stroke="#0c0b0e" stroke-width="1.3"/>
<rect x="526.95" y="512.98" width="16.40" height="16.30" fill="url(#hco)" opacity="0.7"/>
<rect x="551.00" y="511.48" width="22.80" height="21.60" rx="3" fill="#b8b3bc" opacity="0.65"/><rect x="551.00" y="509.68" width="22.80" height="22.00" rx="3" fill="#3a363c" opacity="0.5"/><rect x="551.50" y="510.48" width="21.8" height="21.0" rx="2.6" fill="url(#hcr)"/><rect x="552.10" y="511.08" width="20.60" height="19.80" rx="2.2" fill="none" stroke="#0c0b0e" stroke-width="1.3"/>
<rect x="388.10" y="539.36" width="22.80" height="21.60" rx="3" fill="#b8b3bc" opacity="0.65"/><rect x="388.10" y="537.56" width="22.80" height="22.00" rx="3" fill="#3a363c" opacity="0.5"/><rect x="388.60" y="538.36" width="21.8" height="21.0" rx="2.6" fill="url(#hc)"/><rect x="389.20" y="538.96" width="20.60" height="19.80" rx="2.2" fill="none" stroke="#0c0b0e" stroke-width="1.3"/>
<rect x="415.25" y="539.36" width="22.80" height="21.60" rx="3" fill="#b8b3bc" opacity="0.65"/><rect x="415.25" y="537.56" width="22.80" height="22.00" rx="3" fill="#3a363c" opacity="0.5"/><rect x="415.75" y="538.36" width="21.8" height="21.0" rx="2.6" fill="url(#hc)"/><rect x="416.35" y="538.96" width="20.60" height="19.80" rx="2.2" fill="none" stroke="#0c0b0e" stroke-width="1.3"/>
<rect x="442.40" y="539.36" width="22.80" height="21.60" rx="3" fill="#b8b3bc" opacity="0.65"/><rect x="442.40" y="537.56" width="22.80" height="22.00" rx="3" fill="#3a363c" opacity="0.5"/><rect x="442.90" y="538.36" width="21.8" height="21.0" rx="2.6" fill="url(#hc)"/><rect x="443.50" y="538.96" width="20.60" height="19.80" rx="2.2" fill="none" stroke="#0c0b0e" stroke-width="1.3"/>
<rect x="469.55" y="539.36" width="22.80" height="21.60" rx="3" fill="#b8b3bc" opacity="0.65"/><rect x="469.55" y="537.56" width="22.80" height="22.00" rx="3" fill="#3a363c" opacity="0.5"/><rect x="470.05" y="538.36" width="21.8" height="21.0" rx="2.6" fill="url(#hc)"/><rect x="470.65" y="538.96" width="20.60" height="19.80" rx="2.2" fill="none" stroke="#0c0b0e" stroke-width="1.3"/>
<rect x="496.70" y="539.36" width="22.80" height="21.60" rx="3" fill="#b8b3bc" opacity="0.65"/><rect x="496.70" y="537.56" width="22.80" height="22.00" rx="3" fill="#3a363c" opacity="0.5"/><rect x="497.20" y="538.36" width="21.8" height="21.0" rx="2.6" fill="url(#hc)"/><rect x="497.80" y="538.96" width="20.60" height="19.80" rx="2.2" fill="none" stroke="#0c0b0e" stroke-width="1.3"/>
<rect x="523.85" y="539.36" width="22.80" height="21.60" rx="3" fill="#b8b3bc" opacity="0.65"/><rect x="523.85" y="537.56" width="22.80" height="22.00" rx="3" fill="#3a363c" opacity="0.5"/><rect x="524.35" y="538.36" width="21.8" height="21.0" rx="2.6" fill="url(#hc)"/><rect x="524.95" y="538.96" width="20.60" height="19.80" rx="2.2" fill="none" stroke="#0c0b0e" stroke-width="1.3"/>
<rect x="526.95" y="540.86" width="16.40" height="16.30" fill="url(#hco)" opacity="0.7"/>
<rect x="551.00" y="539.36" width="22.80" height="21.60" rx="3" fill="#b8b3bc" opacity="0.65"/><rect x="551.00" y="537.56" width="22.80" height="22.00" rx="3" fill="#3a363c" opacity="0.5"/><rect x="551.50" y="538.36" width="21.8" height="21.0" rx="2.6" fill="url(#hcr)"/><rect x="552.10" y="538.96" width="20.60" height="19.80" rx="2.2" fill="none" stroke="#0c0b0e" stroke-width="1.3"/>
<rect x="388.10" y="567.24" width="22.80" height="21.60" rx="3" fill="#b8b3bc" opacity="0.65"/><rect x="388.10" y="565.44" width="22.80" height="22.00" rx="3" fill="#3a363c" opacity="0.5"/><rect x="388.60" y="566.24" width="21.8" height="21.0" rx="2.6" fill="url(#hc)"/><rect x="389.20" y="566.84" width="20.60" height="19.80" rx="2.2" fill="none" stroke="#0c0b0e" stroke-width="1.3"/>
<rect x="415.25" y="567.24" width="22.80" height="21.60" rx="3" fill="#b8b3bc" opacity="0.65"/><rect x="415.25" y="565.44" width="22.80" height="22.00" rx="3" fill="#3a363c" opacity="0.5"/><rect x="415.75" y="566.24" width="21.8" height="21.0" rx="2.6" fill="url(#hc)"/><rect x="416.35" y="566.84" width="20.60" height="19.80" rx="2.2" fill="none" stroke="#0c0b0e" stroke-width="1.3"/>
<rect x="442.40" y="567.24" width="22.80" height="21.60" rx="3" fill="#b8b3bc" opacity="0.65"/><rect x="442.40" y="565.44" width="22.80" height="22.00" rx="3" fill="#3a363c" opacity="0.5"/><rect x="442.90" y="566.24" width="21.8" height="21.0" rx="2.6" fill="url(#hc)"/><rect x="443.50" y="566.84" width="20.60" height="19.80" rx="2.2" fill="none" stroke="#0c0b0e" stroke-width="1.3"/>
<rect x="469.55" y="567.24" width="22.80" height="21.60" rx="3" fill="#b8b3bc" opacity="0.65"/><rect x="469.55" y="565.44" width="22.80" height="22.00" rx="3" fill="#3a363c" opacity="0.5"/><rect x="470.05" y="566.24" width="21.8" height="21.0" rx="2.6" fill="url(#hc)"/><rect x="470.65" y="566.84" width="20.60" height="19.80" rx="2.2" fill="none" stroke="#0c0b0e" stroke-width="1.3"/>
<rect x="496.70" y="567.24" width="22.80" height="21.60" rx="3" fill="#b8b3bc" opacity="0.65"/><rect x="496.70" y="565.44" width="22.80" height="22.00" rx="3" fill="#3a363c" opacity="0.5"/><rect x="497.20" y="566.24" width="21.8" height="21.0" rx="2.6" fill="url(#hc)"/><rect x="497.80" y="566.84" width="20.60" height="19.80" rx="2.2" fill="none" stroke="#0c0b0e" stroke-width="1.3"/>
<rect x="523.85" y="567.24" width="22.80" height="21.60" rx="3" fill="#b8b3bc" opacity="0.65"/><rect x="523.85" y="565.44" width="22.80" height="22.00" rx="3" fill="#3a363c" opacity="0.5"/><rect x="524.35" y="566.24" width="21.8" height="21.0" rx="2.6" fill="url(#hc)"/><rect x="524.95" y="566.84" width="20.60" height="19.80" rx="2.2" fill="none" stroke="#0c0b0e" stroke-width="1.3"/>
<rect x="526.95" y="568.74" width="16.40" height="16.30" fill="url(#hco)" opacity="0.7"/>
<rect x="551.00" y="567.24" width="22.80" height="21.60" rx="3" fill="#b8b3bc" opacity="0.65"/><rect x="551.00" y="565.44" width="22.80" height="22.00" rx="3" fill="#3a363c" opacity="0.5"/><rect x="551.50" y="566.24" width="21.8" height="21.0" rx="2.6" fill="url(#hcr)"/><rect x="552.10" y="566.84" width="20.60" height="19.80" rx="2.2" fill="none" stroke="#0c0b0e" stroke-width="1.3"/>
<rect x="388.10" y="595.12" width="22.80" height="21.60" rx="3" fill="#b8b3bc" opacity="0.65"/><rect x="388.10" y="593.32" width="22.80" height="22.00" rx="3" fill="#3a363c" opacity="0.5"/><rect x="388.60" y="594.12" width="21.8" height="21.0" rx="2.6" fill="url(#hc)"/><rect x="389.20" y="594.72" width="20.60" height="19.80" rx="2.2" fill="none" stroke="#0c0b0e" stroke-width="1.3"/>
<rect x="415.25" y="595.12" width="22.80" height="21.60" rx="3" fill="#b8b3bc" opacity="0.65"/><rect x="415.25" y="593.32" width="22.80" height="22.00" rx="3" fill="#3a363c" opacity="0.5"/><rect x="415.75" y="594.12" width="21.8" height="21.0" rx="2.6" fill="url(#hc)"/><rect x="416.35" y="594.72" width="20.60" height="19.80" rx="2.2" fill="none" stroke="#0c0b0e" stroke-width="1.3"/>
<rect x="442.40" y="595.12" width="22.80" height="21.60" rx="3" fill="#b8b3bc" opacity="0.65"/><rect x="442.40" y="593.32" width="22.80" height="22.00" rx="3" fill="#3a363c" opacity="0.5"/><rect x="442.90" y="594.12" width="21.8" height="21.0" rx="2.6" fill="url(#hc)"/><rect x="443.50" y="594.72" width="20.60" height="19.80" rx="2.2" fill="none" stroke="#0c0b0e" stroke-width="1.3"/>
<rect x="469.55" y="595.12" width="22.80" height="21.60" rx="3" fill="#b8b3bc" opacity="0.65"/><rect x="469.55" y="593.32" width="22.80" height="22.00" rx="3" fill="#3a363c" opacity="0.5"/><rect x="470.05" y="594.12" width="21.8" height="21.0" rx="2.6" fill="url(#hc)"/><rect x="470.65" y="594.72" width="20.60" height="19.80" rx="2.2" fill="none" stroke="#0c0b0e" stroke-width="1.3"/>
<rect x="496.70" y="595.12" width="22.80" height="21.60" rx="3" fill="#b8b3bc" opacity="0.65"/><rect x="496.70" y="593.32" width="22.80" height="22.00" rx="3" fill="#3a363c" opacity="0.5"/><rect x="497.20" y="594.12" width="21.8" height="21.0" rx="2.6" fill="url(#hc)"/><rect x="497.80" y="594.72" width="20.60" height="19.80" rx="2.2" fill="none" stroke="#0c0b0e" stroke-width="1.3"/>
<rect x="523.85" y="595.12" width="22.80" height="21.60" rx="3" fill="#b8b3bc" opacity="0.65"/><rect x="523.85" y="593.32" width="22.80" height="22.00" rx="3" fill="#3a363c" opacity="0.5"/><rect x="524.35" y="594.12" width="21.8" height="21.0" rx="2.6" fill="url(#hc)"/><rect x="524.95" y="594.72" width="20.60" height="19.80" rx="2.2" fill="none" stroke="#0c0b0e" stroke-width="1.3"/>
<rect x="526.95" y="600.12" width="16.40" height="12.50" fill="url(#hco)" opacity="0.7"/>
<rect x="551.00" y="595.12" width="22.80" height="21.60" rx="3" fill="#b8b3bc" opacity="0.65"/><rect x="551.00" y="593.32" width="22.80" height="22.00" rx="3" fill="#3a363c" opacity="0.5"/><rect x="551.50" y="594.12" width="21.8" height="21.0" rx="2.6" fill="url(#hcr)"/><rect x="552.10" y="594.72" width="20.60" height="19.80" rx="2.2" fill="none" stroke="#0c0b0e" stroke-width="1.3"/>
<rect x="388.10" y="623.00" width="22.80" height="21.60" rx="3" fill="#b8b3bc" opacity="0.65"/><rect x="388.10" y="621.20" width="22.80" height="22.00" rx="3" fill="#3a363c" opacity="0.5"/><rect x="388.60" y="622.00" width="21.8" height="21.0" rx="2.6" fill="url(#hc)"/><rect x="389.20" y="622.60" width="20.60" height="19.80" rx="2.2" fill="none" stroke="#0c0b0e" stroke-width="1.3"/>
<rect x="415.25" y="623.00" width="22.80" height="21.60" rx="3" fill="#b8b3bc" opacity="0.65"/><rect x="415.25" y="621.20" width="22.80" height="22.00" rx="3" fill="#3a363c" opacity="0.5"/><rect x="415.75" y="622.00" width="21.8" height="21.0" rx="2.6" fill="url(#hc)"/><rect x="416.35" y="622.60" width="20.60" height="19.80" rx="2.2" fill="none" stroke="#0c0b0e" stroke-width="1.3"/>
<rect x="442.40" y="623.00" width="22.80" height="21.60" rx="3" fill="#b8b3bc" opacity="0.65"/><rect x="442.40" y="621.20" width="22.80" height="22.00" rx="3" fill="#3a363c" opacity="0.5"/><rect x="442.90" y="622.00" width="21.8" height="21.0" rx="2.6" fill="url(#hc)"/><rect x="443.50" y="622.60" width="20.60" height="19.80" rx="2.2" fill="none" stroke="#0c0b0e" stroke-width="1.3"/>
<rect x="469.55" y="623.00" width="22.80" height="21.60" rx="3" fill="#b8b3bc" opacity="0.65"/><rect x="469.55" y="621.20" width="22.80" height="22.00" rx="3" fill="#3a363c" opacity="0.5"/><rect x="470.05" y="622.00" width="21.8" height="21.0" rx="2.6" fill="url(#hc)"/><rect x="470.65" y="622.60" width="20.60" height="19.80" rx="2.2" fill="none" stroke="#0c0b0e" stroke-width="1.3"/>
<rect x="496.70" y="623.00" width="22.80" height="21.60" rx="3" fill="#b8b3bc" opacity="0.65"/><rect x="496.70" y="621.20" width="22.80" height="22.00" rx="3" fill="#3a363c" opacity="0.5"/><rect x="497.20" y="622.00" width="21.8" height="21.0" rx="2.6" fill="url(#hc)"/><rect x="497.80" y="622.60" width="20.60" height="19.80" rx="2.2" fill="none" stroke="#0c0b0e" stroke-width="1.3"/>
<rect x="523.85" y="623.00" width="22.80" height="21.60" rx="3" fill="#b8b3bc" opacity="0.65"/><rect x="523.85" y="621.20" width="22.80" height="22.00" rx="3" fill="#3a363c" opacity="0.5"/><rect x="524.35" y="622.00" width="21.8" height="21.0" rx="2.6" fill="url(#hc)"/><rect x="524.95" y="622.60" width="20.60" height="19.80" rx="2.2" fill="none" stroke="#0c0b0e" stroke-width="1.3"/>
<rect x="526.95" y="624.20" width="16.40" height="5.30" fill="url(#hco)" opacity="0.7"/><rect x="526.95" y="634.80" width="16.40" height="5.80" fill="url(#hco)" opacity="0.7"/>
<rect x="551.00" y="623.00" width="22.80" height="21.60" rx="3" fill="#b8b3bc" opacity="0.65"/><rect x="551.00" y="621.20" width="22.80" height="22.00" rx="3" fill="#3a363c" opacity="0.5"/><rect x="551.50" y="622.00" width="21.8" height="21.0" rx="2.6" fill="url(#hcr)"/><rect x="552.10" y="622.60" width="20.60" height="19.80" rx="2.2" fill="none" stroke="#0c0b0e" stroke-width="1.3"/>
<rect x="388.10" y="650.88" width="22.80" height="21.60" rx="3" fill="#b8b3bc" opacity="0.65"/><rect x="388.10" y="649.08" width="22.80" height="22.00" rx="3" fill="#3a363c" opacity="0.5"/><rect x="388.60" y="649.88" width="21.8" height="21.0" rx="2.6" fill="url(#hc)"/><rect x="389.20" y="650.48" width="20.60" height="19.80" rx="2.2" fill="none" stroke="#0c0b0e" stroke-width="1.3"/>
<rect x="415.25" y="650.88" width="22.80" height="21.60" rx="3" fill="#b8b3bc" opacity="0.65"/><rect x="415.25" y="649.08" width="22.80" height="22.00" rx="3" fill="#3a363c" opacity="0.5"/><rect x="415.75" y="649.88" width="21.8" height="21.0" rx="2.6" fill="url(#hc)"/><rect x="416.35" y="650.48" width="20.60" height="19.80" rx="2.2" fill="none" stroke="#0c0b0e" stroke-width="1.3"/>
<rect x="442.40" y="650.88" width="22.80" height="21.60" rx="3" fill="#b8b3bc" opacity="0.65"/><rect x="442.40" y="649.08" width="22.80" height="22.00" rx="3" fill="#3a363c" opacity="0.5"/><rect x="442.90" y="649.88" width="21.8" height="21.0" rx="2.6" fill="url(#hc)"/><rect x="443.50" y="650.48" width="20.60" height="19.80" rx="2.2" fill="none" stroke="#0c0b0e" stroke-width="1.3"/>
<rect x="469.55" y="650.88" width="22.80" height="21.60" rx="3" fill="#b8b3bc" opacity="0.65"/><rect x="469.55" y="649.08" width="22.80" height="22.00" rx="3" fill="#3a363c" opacity="0.5"/><rect x="470.05" y="649.88" width="21.8" height="21.0" rx="2.6" fill="url(#hc)"/><rect x="470.65" y="650.48" width="20.60" height="19.80" rx="2.2" fill="none" stroke="#0c0b0e" stroke-width="1.3"/>
<rect x="496.70" y="650.88" width="22.80" height="21.60" rx="3" fill="#b8b3bc" opacity="0.65"/><rect x="496.70" y="649.08" width="22.80" height="22.00" rx="3" fill="#3a363c" opacity="0.5"/><rect x="497.20" y="649.88" width="21.8" height="21.0" rx="2.6" fill="url(#hc)"/><rect x="497.80" y="650.48" width="20.60" height="19.80" rx="2.2" fill="none" stroke="#0c0b0e" stroke-width="1.3"/>
<rect x="523.85" y="650.88" width="22.80" height="21.60" rx="3" fill="#b8b3bc" opacity="0.65"/><rect x="523.85" y="649.08" width="22.80" height="22.00" rx="3" fill="#3a363c" opacity="0.5"/><rect x="524.35" y="649.88" width="21.8" height="21.0" rx="2.6" fill="url(#hc)"/><rect x="524.95" y="650.48" width="20.60" height="19.80" rx="2.2" fill="none" stroke="#0c0b0e" stroke-width="1.3"/>
<rect x="526.95" y="652.08" width="16.40" height="11.80" fill="url(#hco)" opacity="0.7"/>
<rect x="551.00" y="650.88" width="22.80" height="21.60" rx="3" fill="#b8b3bc" opacity="0.65"/><rect x="551.00" y="649.08" width="22.80" height="22.00" rx="3" fill="#3a363c" opacity="0.5"/><rect x="551.50" y="649.88" width="21.8" height="21.0" rx="2.6" fill="url(#hcr)"/><rect x="552.10" y="650.48" width="20.60" height="19.80" rx="2.2" fill="none" stroke="#0c0b0e" stroke-width="1.3"/>
<!-- lock -->
<circle cx="399.8" cy="382.6" r="7.9" fill="#c4bebc"/>
<circle cx="399.8" cy="382.6" r="6.7" fill="#5e5a62"/>
<circle cx="399.8" cy="382.6" r="5.4" fill="#aaa29c"/>
<path d="M395.6,384.5 A4.6,4.6 0 0 0 403.8,385" fill="none" stroke="#6a6470" stroke-width="1.3"/>
<circle cx="398.5" cy="382.5" r="1.2" fill="#50506a"/>
</g>
<!-- yellow callouts -->
<g fill="none" stroke="#f5bb0a" stroke-width="3.3" stroke-linejoin="miter" stroke-linecap="butt">
<polyline points="320,134 462.3,134 462.3,151.4"/>
<polyline points="320,180.2 426.3,180.2 426.3,166"/>
<polyline points="403.7,180.2 403.7,162.3"/>
<polyline points="668,134.3 511.5,134.3 511.5,151.4"/>
<polyline points="668,177.6 558.4,177.6 558.4,162"/>
<polyline points="317.5,383.5 393.2,383.5"/>
</g>
<!-- labels -->
<g font-family="Liberation Sans" font-size="17.7" fill="#0a0a0a">
<text x="312.3" y="138.75" text-anchor="end">Status LEDs</text>
<text x="311.6" y="183.75" text-anchor="end">Power and Reset Button</text>
<text x="306.6" y="388.75" text-anchor="end">Lock</text>
<text x="681.1" y="139.8">2x USB 3.0 Ports</text>
<text x="681.3" y="182.7">Audio Ports</text>
</g>
<g font-family="Liberation Sans" font-style="italic" font-size="13.2" fill="#262626">
<text x="410.4" y="88.7" textLength="36.6" lengthAdjust="spacingAndGlyphs">(Front</text>
<text x="452.8" y="88.7" textLength="30.7" lengthAdjust="spacingAndGlyphs">View</text>
<text x="488.2" y="88.7" textLength="7.85" lengthAdjust="spacingAndGlyphs">–</text>
<text x="499.8" y="88.7" textLength="50.6" lengthAdjust="spacingAndGlyphs">System)</text>
</g>
</svg>
</body></html>
